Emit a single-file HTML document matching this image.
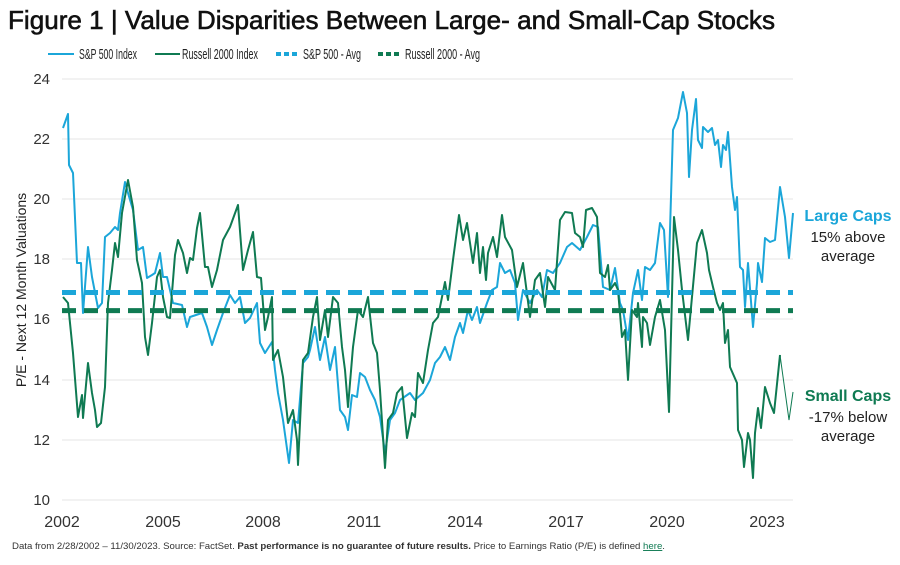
<!DOCTYPE html>
<html><head><meta charset="utf-8"><style>
body{margin:0;background:#fff}
svg{display:block;font-family:"Liberation Sans",sans-serif}
</style></head><body>
<svg width="900" height="565" viewBox="0 0 900 565">
<text x="8" y="29" font-size="26" fill="#111" stroke="#111" stroke-width="0.6" textLength="767" lengthAdjust="spacingAndGlyphs">Figure 1 | Value Disparities Between Large- and Small-Cap Stocks</text>
<g font-size="15" fill="#222">
<line x1="48" y1="54" x2="74" y2="54" stroke="#1ba6d9" stroke-width="2"/>
<text x="79" y="59" textLength="58" lengthAdjust="spacingAndGlyphs">S&amp;P 500 Index</text>
<line x1="155" y1="54" x2="180" y2="54" stroke="#0f7a52" stroke-width="2"/>
<text x="182" y="59" textLength="76" lengthAdjust="spacingAndGlyphs">Russell 2000 Index</text>
<line x1="276" y1="54" x2="297" y2="54" stroke="#1ba6d9" stroke-width="4" stroke-dasharray="5 3"/>
<text x="303" y="59" textLength="58" lengthAdjust="spacingAndGlyphs">S&amp;P 500 - Avg</text>
<line x1="378" y1="54" x2="399" y2="54" stroke="#0f7a52" stroke-width="4" stroke-dasharray="5 3"/>
<text x="405" y="59" textLength="75" lengthAdjust="spacingAndGlyphs">Russell 2000 - Avg</text>
</g>
<g stroke="#e6e6e6" stroke-width="1">
<line x1="62" y1="79" x2="793" y2="79"/><line x1="62" y1="139" x2="793" y2="139"/><line x1="62" y1="199" x2="793" y2="199"/><line x1="62" y1="259" x2="793" y2="259"/><line x1="62" y1="319" x2="793" y2="319"/><line x1="62" y1="380" x2="793" y2="380"/><line x1="62" y1="440" x2="793" y2="440"/><line x1="62" y1="500" x2="793" y2="500"/>
</g>
<g font-size="15" fill="#333" text-anchor="end">
<text x="50" y="84">24</text><text x="50" y="144">22</text><text x="50" y="204">20</text><text x="50" y="264">18</text><text x="50" y="324">16</text><text x="50" y="385">14</text><text x="50" y="445">12</text><text x="50" y="505">10</text>
</g>
<text transform="translate(26,290) rotate(-90)" font-size="14" fill="#222" text-anchor="middle">P/E - Next 12 Month Valuations</text>
<g font-size="16" fill="#333" text-anchor="middle">
<text x="62" y="527">2002</text><text x="163" y="527">2005</text><text x="263" y="527">2008</text><text x="364" y="527">2011</text><text x="465" y="527">2014</text><text x="566" y="527">2017</text><text x="667" y="527">2020</text><text x="767" y="527">2023</text>
</g>
<polyline fill="none" stroke="#1ba6d9" stroke-width="2" stroke-linejoin="round" points="63,128 68,114 69,165 73,173 77,263 81,263 83,313 88,247 92,277 98,308 102,303 105,237 110,233 115,227 118,230 120,213 125,182 128,193 133,210 138,250 143,247 147,278 152,275 155,273 160,253 163,277 167,277 173,303 182,305 187,327 190,317 202,313 207,327 212,345 217,330 223,313 230,295 235,303 240,297 245,323 250,318 257,303 260,343 265,353 272,342 275,370 278,393 283,420 289,463 293,420 298,423 303,363 308,357 310,350 315,327 320,360 325,337 330,370 335,347 340,410 345,417 348,430 352,395 357,397 360,373 365,377 370,390 375,400 380,417 385,453 390,420 395,413 400,400 410,393 415,400 423,393 430,380 435,363 440,357 445,347 450,360 455,337 460,323 463,333 468,310 472,320 477,307 480,323 487,303 492,290 497,287 500,263 505,273 510,270 515,283 518,320 523,290 530,303 537,290 542,297 547,270 553,273 560,263 567,247 572,243 580,250 587,237 593,225 598,227 603,287 610,290 615,268 620,303 623,310 628,340 633,293 638,270 642,300 645,267 650,270 655,263 660,223 664,230 668,297 673,130 678,118 683,92 687,113 689,177 692,130 696,99 698,140 702,148 703,127 708,132 712,128 715,145 718,140 721,167 723,145 726,150 728,132 732,187 735,210 737,197 740,267 743,270 745,307 748,263 753,327 757,283 758,263 762,282 765,238 770,242 775,240 780,187 785,217 789,258 793,213"/>
<polyline fill="none" stroke="#0f7a52" stroke-width="2" stroke-linejoin="round" points="63,297 68,303 73,353 78,417 82,395 83,418 88,363 92,393 95,410 97,427 101,423 105,387 108,303 112,270 115,243 118,257 122,213 128,180 133,207 137,260 142,283 145,337 148,355 152,323 157,277 160,270 163,297 167,317 170,318 175,255 178,240 183,253 187,273 190,258 193,260 197,228 200,213 205,267 208,267 212,287 217,270 223,240 230,227 238,205 243,270 248,250 253,232 257,277 261,278 265,330 268,317 272,297 273,360 278,350 283,377 288,423 293,410 297,440 298,465 303,360 308,353 313,317 317,297 320,340 325,310 328,337 333,297 338,303 342,347 345,370 348,407 353,347 358,310 363,317 368,297 373,343 377,353 380,390 385,468 388,420 393,413 397,393 402,387 407,438 412,413 415,417 418,373 423,383 428,350 433,323 438,317 445,282 448,300 453,260 459,215 463,240 467,223 473,263 477,233 480,273 483,247 486,280 488,253 493,237 497,257 502,215 505,237 512,250 517,287 523,263 530,317 535,280 540,273 545,307 548,277 555,290 560,220 565,212 572,213 575,233 580,237 583,247 586,210 592,208 597,217 600,273 605,277 608,265 610,290 615,283 618,290 622,337 625,330 628,380 632,310 637,317 638,303 642,347 643,317 647,323 650,345 655,317 660,300 665,330 669,412 674,217 678,250 682,290 688,340 697,243 702,230 707,253 709,270 713,287 717,303 720,310 723,303 725,343 728,330 730,367 737,383 738,430 742,440 744,467 748,433 750,440 753,478 755,433 758,408 761,428 765,387 770,403 774,413 780,355"/>
<polyline fill="none" stroke="#0f7a52" stroke-width="1" points="780,355 789,420 793,392"/>
<line x1="62" y1="292.5" x2="793" y2="292.5" stroke="#1ba6d9" stroke-width="5" stroke-dasharray="14 8"/>
<line x1="62" y1="310.6" x2="793" y2="310.6" stroke="#0f7a52" stroke-width="5" stroke-dasharray="14 8"/>
<g text-anchor="middle" font-size="15">
<text x="848" y="221" fill="#1ba6d9" font-weight="bold" font-size="16">Large Caps</text>
<text x="848" y="242" fill="#222">15% above</text>
<text x="848" y="261" fill="#222">average</text>
<text x="848" y="401" fill="#0f7a52" font-weight="bold" font-size="16">Small Caps</text>
<text x="848" y="422" fill="#222">-17% below</text>
<text x="848" y="441" fill="#222">average</text>
</g>
<text x="12" y="549" font-size="9.5" fill="#333" textLength="653" lengthAdjust="spacingAndGlyphs">Data from 2/28/2002 – 11/30/2023. Source: FactSet. <tspan font-weight="bold">Past performance is no guarantee of future results.</tspan> Price to Earnings Ratio (P/E) is defined <tspan fill="#0f7a52" text-decoration="underline">here</tspan>.</text>
</svg>
</body></html>
